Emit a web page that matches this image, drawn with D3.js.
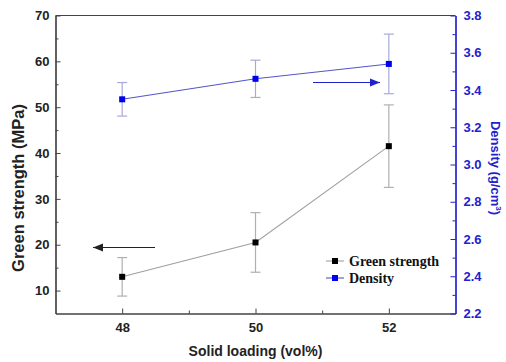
<!DOCTYPE html>
<html>
<head>
<meta charset="utf-8">
<script src="https://cdn.jsdelivr.net/npm/d3@7"></script>
<style>
  html, body { margin: 0; padding: 0; background: #fff; }
  svg { display: block; }
</style>
</head>
<body>
<svg id="chart" width="506" height="362"></svg>
<script>
// Solid loading (vol%) and measured properties
const solidLoading = [48, 50, 52];
const greenStrength = [13.0, 20.5, 41.5];
const greenStrengthErr = [4.2, 6.5, 9.0];
const density = [3.35, 3.46, 3.54];
const densityErr = [0.09, 0.10, 0.16];

const xTicks = [48, 50, 52];
const xMinorTicks = [49, 51];
const leftTicks = [10, 20, 30, 40, 50, 60, 70];
const leftMinorTicks = [15, 25, 35, 45, 55, 65];
const rightTicks = [2.2, 2.4, 2.6, 2.8, 3.0, 3.2, 3.4, 3.6, 3.8];
const rightMinorTicks = [2.3, 2.5, 2.7, 2.9, 3.1, 3.3, 3.5, 3.7];

const legendItems = ["Green strength", "Density"];

const svg = d3.select("#chart");
const m = { left: 55.5, right: 455.5, top: 15.5, bottom: 313.5 };

const x = d3.scaleLinear().domain([47, 53]).range([m.left, m.right]);
const yL = d3.scaleLinear().domain([5, 70]).range([m.bottom, m.top]);
const yR = d3.scaleLinear().domain([2.2, 3.8]).range([m.bottom, m.top]);

const gray = "#444";
const blue = "#2222cc";
const tickFont = "bold 13px 'Liberation Sans', Arial, sans-serif";

// top border of the frame
svg.append("line").attr("x1", m.left).attr("x2", m.right).attr("y1", m.top).attr("y2", m.top)
  .attr("stroke", gray).attr("stroke-width", 1.2);

// bottom axis (inward ticks)
const xAxis = svg.append("g").attr("transform", `translate(0,${m.bottom})`)
  .call(d3.axisBottom(x).tickValues(xTicks).tickSizeInner(-5).tickSizeOuter(0).tickPadding(9.5).tickFormat(d3.format("d")));
const xMinor = svg.append("g").attr("transform", `translate(0,${m.bottom})`)
  .call(d3.axisBottom(x).tickValues(xMinorTicks).tickSizeInner(-3).tickSizeOuter(0).tickFormat(""));

// left axis
const yAxisL = svg.append("g").attr("transform", `translate(${m.left},0)`)
  .call(d3.axisLeft(yL).tickValues(leftTicks).tickSizeInner(-5).tickSizeOuter(0).tickPadding(6).tickFormat(d3.format("d")));
const yMinorL = svg.append("g").attr("transform", `translate(${m.left},0)`)
  .call(d3.axisLeft(yL).tickValues(leftMinorTicks).tickSizeInner(-3).tickSizeOuter(0).tickFormat(""));

// right axis
const yAxisR = svg.append("g").attr("transform", `translate(${m.right},0)`)
  .call(d3.axisRight(yR).tickValues(rightTicks).tickSizeInner(-5).tickSizeOuter(0).tickPadding(8).tickFormat(d3.format(".1f")));
const yMinorR = svg.append("g").attr("transform", `translate(${m.right},0)`)
  .call(d3.axisRight(yR).tickValues(rightMinorTicks).tickSizeInner(-3).tickSizeOuter(0).tickFormat(""));

[xAxis, xMinor, yAxisL, yMinorL].forEach(g => {
  g.selectAll("path.domain").attr("stroke", gray).attr("stroke-width", 1.2);
  g.selectAll("line").attr("stroke", gray).attr("stroke-width", 1);
  g.selectAll("text").attr("fill", "#222").style("font", tickFont);
});
[yAxisR, yMinorR].forEach(g => {
  g.selectAll("path.domain").attr("stroke", blue).attr("stroke-width", 1.2);
  g.selectAll("line").attr("stroke", blue).attr("stroke-width", 1);
  g.selectAll("text").attr("fill", blue).style("font", tickFont);
});

// axis titles
svg.append("text").attr("x", x(50)).attr("y", 356).attr("text-anchor", "middle")
  .style("font", "bold 14px 'Liberation Sans', Arial, sans-serif").attr("fill", "#222").text("Solid loading (vol%)");
svg.append("text").attr("transform", "translate(24,188) rotate(-90)").attr("text-anchor", "middle")
  .style("font", "bold 16.5px 'Liberation Sans', Arial, sans-serif").attr("fill", "#222").text("Green strength (MPa)");
const rt = svg.append("text").attr("transform", "translate(491,168) rotate(90)").attr("text-anchor", "middle")
  .style("font", "bold 13px 'Liberation Sans', Arial, sans-serif").attr("fill", blue);
rt.append("tspan").text("Density (g/cm");
rt.append("tspan").attr("dy", -5).style("font-size", "8px").text("3");
rt.append("tspan").attr("dy", 5).text(")");

// series drawing helper
function drawSeries(vals, errs, y, lineColor, errColor, markColor) {
  const pts = solidLoading.map((s, i) => ({ s, v: vals[i], e: errs[i] }));
  const g = svg.append("g");
  pts.forEach(p => {
    g.append("line").attr("x1", x(p.s)).attr("x2", x(p.s)).attr("y1", y(p.v - p.e)).attr("y2", y(p.v + p.e))
      .attr("stroke", errColor).attr("stroke-width", 1.2);
    [p.v - p.e, p.v + p.e].forEach(v => {
      g.append("line").attr("x1", x(p.s) - 5).attr("x2", x(p.s) + 5).attr("y1", y(v)).attr("y2", y(v))
        .attr("stroke", errColor).attr("stroke-width", 1.2);
    });
  });
  g.append("path").datum(pts)
    .attr("d", d3.line().x(d => x(d.s)).y(d => y(d.v)))
    .attr("fill", "none").attr("stroke", lineColor).attr("stroke-width", 1.1);
  g.selectAll("rect").data(pts).join("rect")
    .attr("x", d => x(d.s) - 3).attr("y", d => y(d.v) - 3)
    .attr("width", 6).attr("height", 6).attr("fill", markColor);
}

drawSeries(greenStrength, greenStrengthErr, yL, "#a0a0a0", "#b0b0b0", "#000");
drawSeries(density, densityErr, yR, "#5555c8", "#a8a8dc", "#0000ee");

// arrows indicating which axis each series belongs to
const defs = svg.append("defs");
[["arrBlack", "#222"], ["arrBlue", blue]].forEach(([id, c]) => {
  defs.append("marker").attr("id", id).attr("viewBox", "0 0 10 10").attr("refX", 10).attr("refY", 5)
    .attr("markerWidth", 10).attr("markerHeight", 10).attr("markerUnits", "userSpaceOnUse").attr("orient", "auto")
    .append("path").attr("d", "M0,1 L10,5 L0,9 Z").attr("fill", c);
});
svg.append("line").attr("x1", 155).attr("x2", 93).attr("y1", 247.5).attr("y2", 247.5)
  .attr("stroke", "#222").attr("stroke-width", 1.2).attr("marker-end", "url(#arrBlack)");
svg.append("line").attr("x1", 313).attr("x2", 380).attr("y1", 82.5).attr("y2", 82.5)
  .attr("stroke", blue).attr("stroke-width", 1.2).attr("marker-end", "url(#arrBlue)");

// legend
const legend = svg.append("g").attr("transform", "translate(326,261)");
const legendColors = [["#a0a0a0", "#000"], ["#5555c8", "#0000ee"]];
legendItems.forEach((name, i) => {
  const row = legend.append("g").attr("transform", `translate(0,${i * 17})`);
  row.append("line").attr("x1", 0).attr("x2", 18).attr("y1", 0).attr("y2", 0)
    .attr("stroke", legendColors[i][0]).attr("stroke-width", 1.1);
  row.append("rect").attr("x", 6).attr("y", -3).attr("width", 6).attr("height", 6).attr("fill", legendColors[i][1]);
  row.append("text").attr("x", 23).attr("y", 4.5)
    .style("font", "bold 14px 'Liberation Serif', 'Times New Roman', serif").attr("fill", "#111").text(name);
});
</script>
</body>
</html>
